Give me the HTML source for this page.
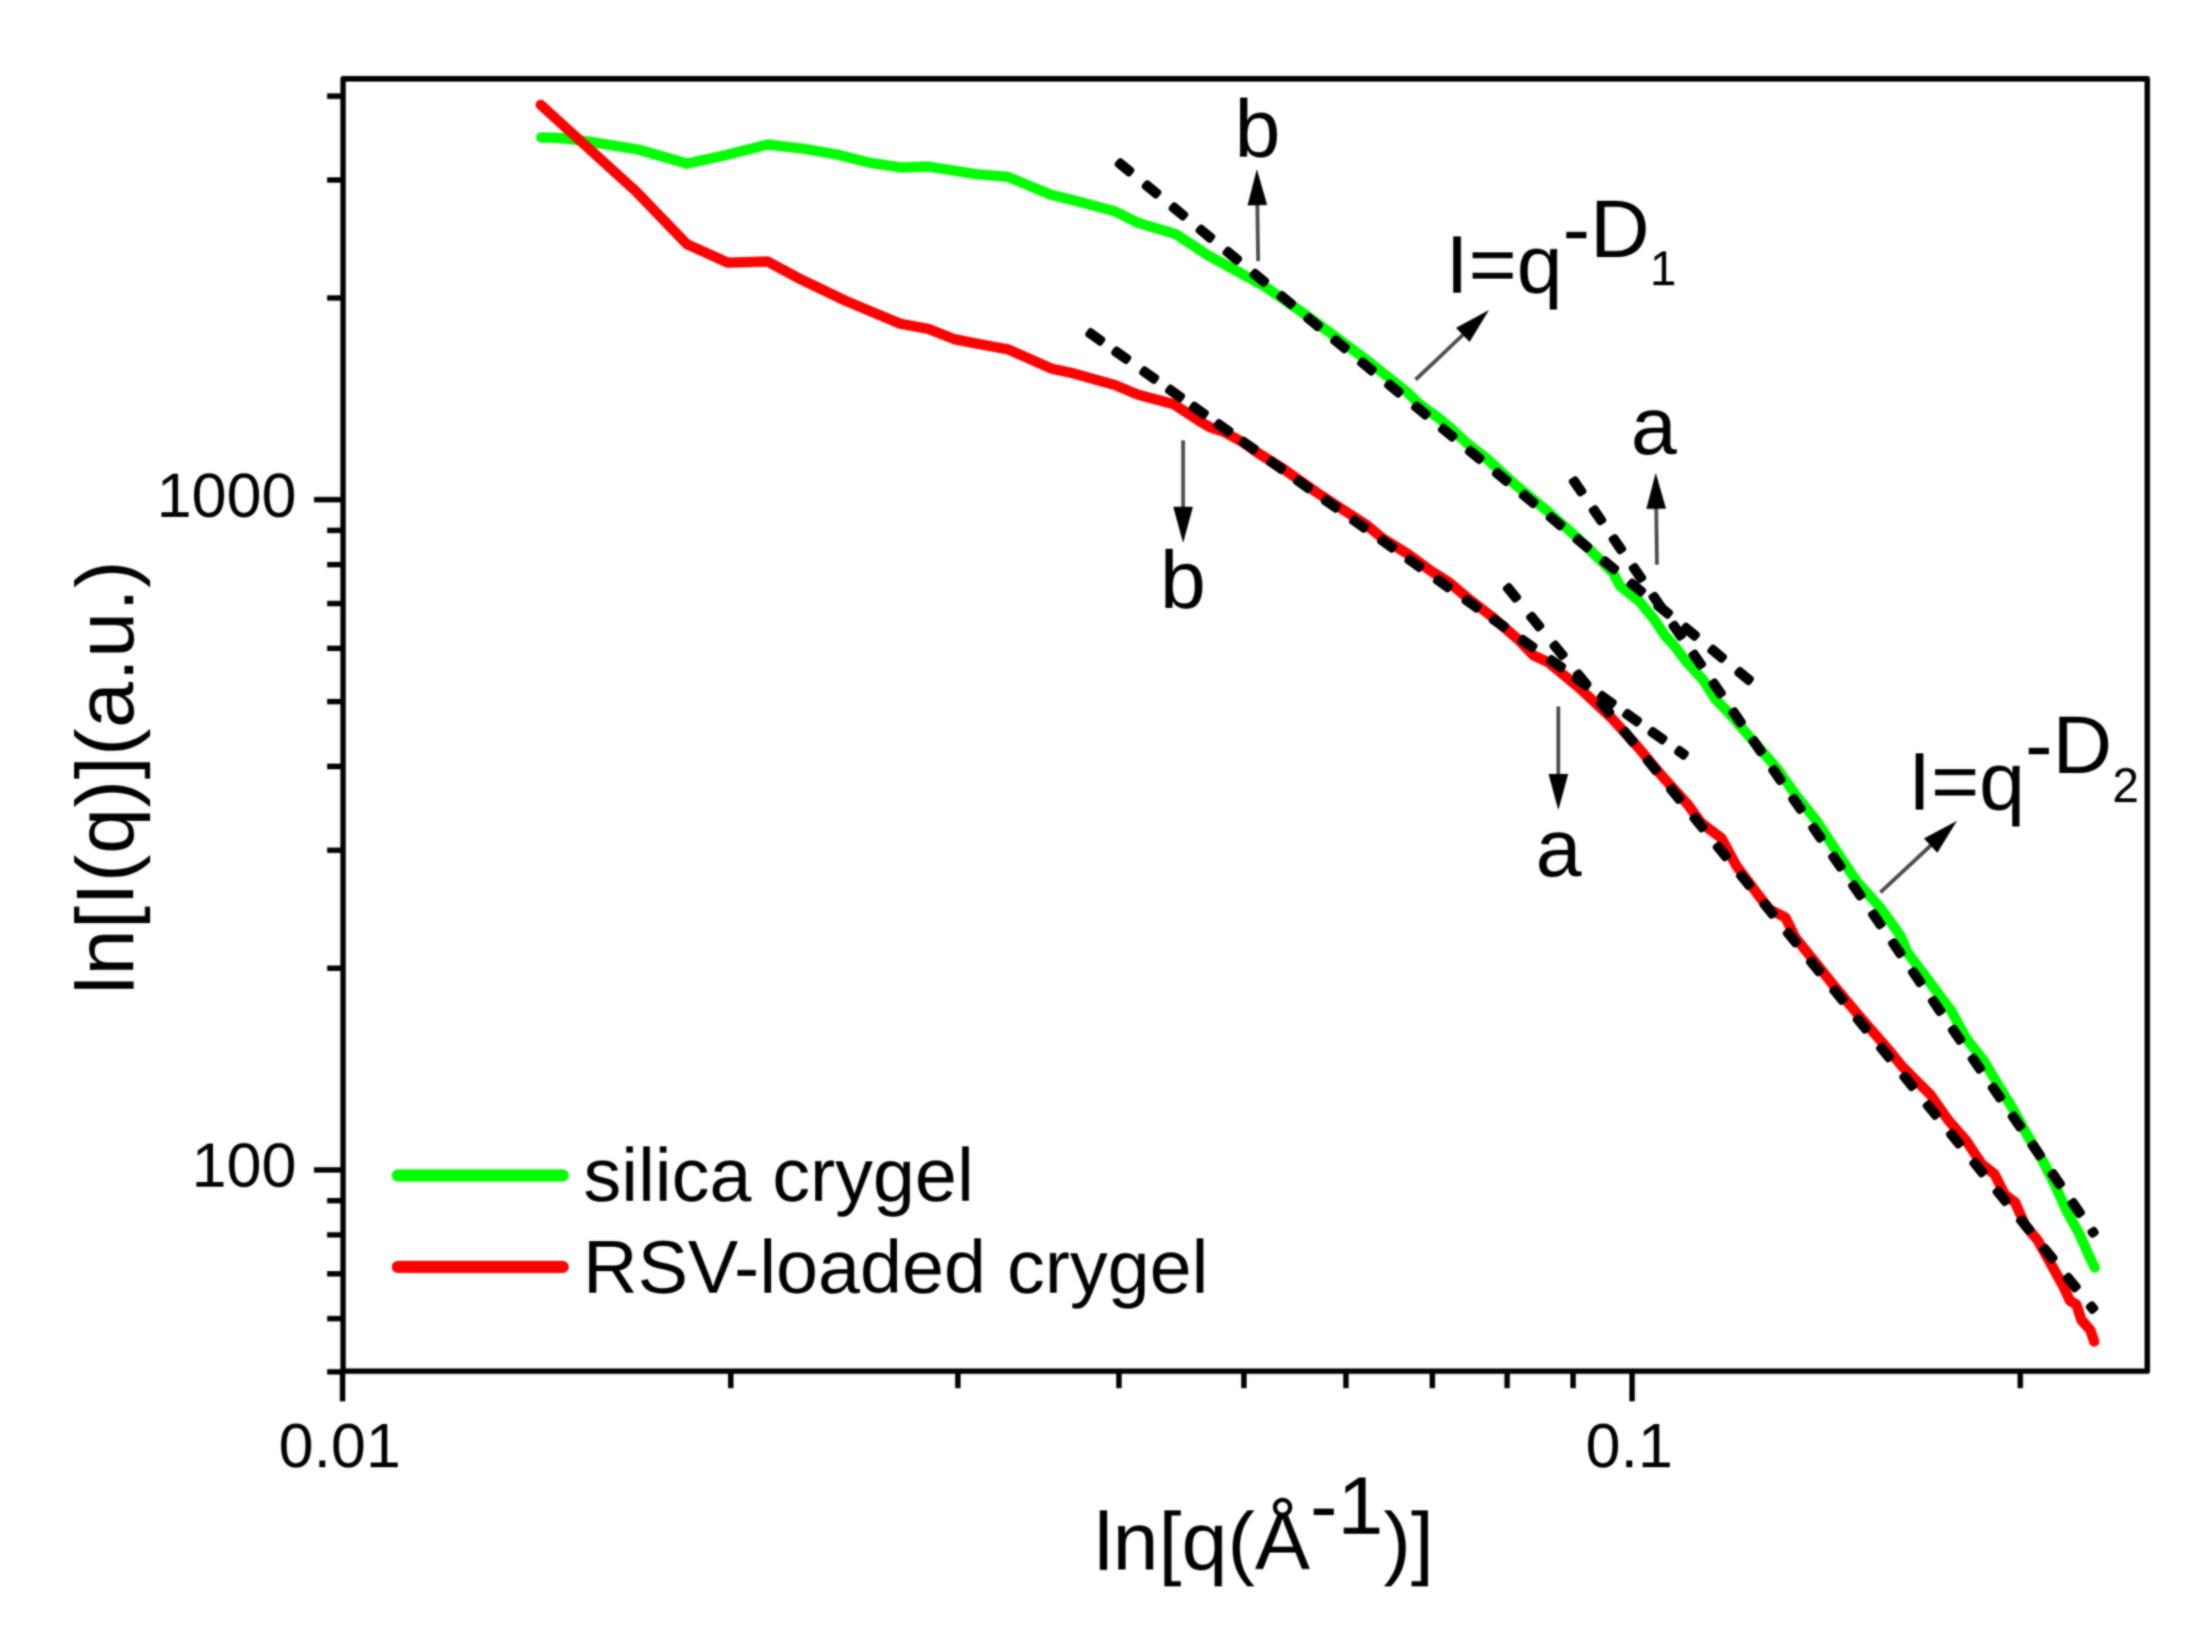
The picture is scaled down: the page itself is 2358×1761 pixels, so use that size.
<!DOCTYPE html>
<html><head><meta charset="utf-8"><title>SAXS plot</title>
<style>
html,body{margin:0;padding:0;background:#fff;}
body{width:2358px;height:1761px;overflow:hidden;}
svg{display:block;}
text{font-family:"Liberation Sans",sans-serif;fill:#000;}
.tk{font-size:67px;}
.an{font-size:88px;}
.lg{font-size:80.5px;}
</style></head><body>
<svg width="2358" height="1761" viewBox="0 0 2358 1761">
<rect x="0" y="0" width="2358" height="1761" fill="#fff"/>
<defs><filter id="soft" x="0" y="0" width="2358" height="1761" filterUnits="userSpaceOnUse" color-interpolation-filters="sRGB"><feGaussianBlur in="SourceGraphic" stdDeviation="0.8" result="b"/><feComposite in="SourceGraphic" in2="b" operator="arithmetic" k1="0" k2="0.3" k3="0.7" k4="0"/></filter></defs>
<g filter="url(#soft)">
<rect x="0" y="0" width="2358" height="1761" fill="#fff"/>
<polyline points="577.0,146.6 600.0,147.3 623.2,150.3 680.4,159.4 732.2,174.4 775.8,164.9 818.0,154.0 857.5,158.6 892.9,164.9 927.2,173.5 959.9,178.4 989.9,177.6 1041.6,185.8 1074.3,188.5 1120.6,207.6 1147.8,214.4 1188.7,225.3 1213.2,237.5 1254.0,249.8 1286.7,271.6 1346.7,304.3 1387.5,332.5 1420.7,356.8 1461.3,387.2 1481.7,403.5 1500.6,418.5 1513.6,431.2 1532.5,444.7 1547.0,456.7 1563.0,471.8 1583.4,487.6 1616.3,517.5 1649.7,545.0 1681.7,573.5 1706.4,597.5 1719.5,610.7 1726.9,624.5 1748.0,641.5 1763.2,660.0 1774.5,677.0 1785.0,688.5 1797.0,704.5 1815.7,725.0 1828.7,745.3 1840.4,757.2 1859.5,779.0 1894.9,819.8 1914.0,847.1 1935.8,874.3 1963.0,915.2 1979.3,939.7 2003.9,966.9 2025.6,996.9 2033.8,1015.9 2058.3,1048.6 2079.8,1077.2 2096.2,1107.2 2115.3,1131.7 2131.6,1159.0 2145.2,1180.8 2161.6,1210.8 2177.9,1238.0 2191.6,1265.3 2202.5,1289.8 2216.1,1314.3 2227.0,1338.8 2233.0,1351.1" fill="none" stroke="#00ff00" stroke-width="11" stroke-linecap="round" stroke-linejoin="round"/>
<polyline points="576.4,111.7 677.7,203.8 732.2,260.2 775.8,280.0 818.0,278.7 854.7,298.3 900.0,320.0 927.2,331.5 959.9,345.1 989.9,350.6 1017.1,361.5 1041.6,366.4 1074.3,372.3 1120.6,392.8 1145.1,398.2 1188.7,410.5 1213.2,420.8 1251.3,430.9 1278.0,448.5 1290.0,455.5 1304.0,460.0 1324.9,471.5 1341.2,483.0 1368.4,500.0 1403.0,524.5 1432.0,543.5 1456.0,559.0 1474.0,574.0 1500.0,590.0 1525.3,608.5 1545.0,621.0 1563.4,636.5 1590.6,657.5 1618.1,681.5 1634.5,698.5 1650.6,706.0 1683.2,733.0 1717.9,765.4 1745.1,795.3 1772.4,828.0 1799.6,858.0 1813.2,877.0 1835.0,893.4 1851.3,923.3 1875.8,956.0 1886.7,969.6 1903.1,977.8 1914.0,999.6 1935.8,1026.8 1956.0,1052.0 1981.7,1082.7 2012.0,1117.5 2028.1,1137.2 2041.7,1150.8 2058.0,1167.2 2077.1,1194.4 2096.2,1216.2 2112.5,1240.7 2126.2,1251.6 2137.1,1273.4 2148.0,1281.6 2158.9,1306.1 2172.5,1322.5 2186.1,1347.0 2199.7,1371.5 2206.5,1386.5 2213.4,1390.6 2218.8,1407.0 2228.3,1417.8 2232.4,1430.1" fill="none" stroke="#ff0000" stroke-width="11" stroke-linecap="round" stroke-linejoin="round"/>
<g fill="#000">
<rect x="1187.9" y="172.9" width="21.8" height="10.9" rx="3.6" transform="rotate(39.39 1198.8 178.3)"/><rect x="1216.6" y="196.4" width="21.8" height="10.9" rx="3.6" transform="rotate(39.39 1227.5 201.9)"/><rect x="1245.3" y="220.0" width="21.8" height="10.9" rx="3.6" transform="rotate(39.39 1256.2 225.5)"/><rect x="1274.1" y="243.6" width="21.8" height="10.9" rx="3.6" transform="rotate(39.39 1285.0 249.0)"/><rect x="1302.8" y="267.2" width="21.8" height="10.9" rx="3.6" transform="rotate(39.39 1313.7 272.6)"/><rect x="1331.5" y="290.7" width="21.8" height="10.9" rx="3.6" transform="rotate(39.39 1342.4 296.2)"/><rect x="1360.2" y="314.3" width="21.8" height="10.9" rx="3.6" transform="rotate(39.39 1371.1 319.8)"/><rect x="1388.9" y="337.9" width="21.8" height="10.9" rx="3.6" transform="rotate(39.39 1399.8 343.4)"/><rect x="1417.6" y="361.5" width="21.8" height="10.9" rx="3.6" transform="rotate(39.39 1428.5 366.9)"/><rect x="1446.3" y="385.1" width="21.8" height="10.9" rx="3.6" transform="rotate(39.39 1457.2 390.5)"/><rect x="1475.0" y="408.6" width="21.8" height="10.9" rx="3.6" transform="rotate(39.39 1485.9 414.1)"/><rect x="1503.7" y="432.2" width="21.8" height="10.9" rx="3.6" transform="rotate(39.39 1514.6 437.7)"/><rect x="1532.4" y="455.8" width="21.8" height="10.9" rx="3.6" transform="rotate(39.39 1543.3 461.2)"/><rect x="1561.2" y="479.4" width="21.8" height="10.9" rx="3.6" transform="rotate(39.39 1572.1 484.8)"/><rect x="1589.9" y="502.9" width="21.8" height="10.9" rx="3.6" transform="rotate(39.39 1600.8 508.4)"/><rect x="1618.6" y="526.5" width="21.8" height="10.9" rx="3.6" transform="rotate(39.39 1629.5 532.0)"/><rect x="1647.3" y="550.1" width="21.8" height="10.9" rx="3.6" transform="rotate(39.39 1658.2 555.5)"/><rect x="1676.0" y="573.7" width="21.8" height="10.9" rx="3.6" transform="rotate(39.39 1686.9 579.1)"/><rect x="1704.7" y="597.2" width="21.8" height="10.9" rx="3.6" transform="rotate(39.39 1715.6 602.7)"/><rect x="1733.4" y="620.8" width="21.8" height="10.9" rx="3.6" transform="rotate(39.39 1744.3 626.3)"/><rect x="1762.1" y="644.4" width="21.8" height="10.9" rx="3.6" transform="rotate(39.39 1773.0 649.8)"/><rect x="1790.8" y="668.0" width="21.8" height="10.9" rx="3.6" transform="rotate(39.39 1801.7 673.4)"/><rect x="1819.6" y="691.5" width="21.8" height="10.9" rx="3.6" transform="rotate(39.39 1830.5 697.0)"/><rect x="1848.3" y="715.1" width="21.8" height="10.9" rx="3.6" transform="rotate(39.39 1859.2 720.6)"/>
<rect x="1670.8" y="513.0" width="21.8" height="10.9" rx="3.6" transform="rotate(55.35 1681.7 518.5)"/><rect x="1692.1" y="543.8" width="21.8" height="10.9" rx="3.6" transform="rotate(55.35 1703.0 549.2)"/><rect x="1713.3" y="574.6" width="21.8" height="10.9" rx="3.6" transform="rotate(55.35 1724.2 580.0)"/><rect x="1734.6" y="605.3" width="21.8" height="10.9" rx="3.6" transform="rotate(55.35 1745.5 610.8)"/><rect x="1755.8" y="636.1" width="21.8" height="10.9" rx="3.6" transform="rotate(55.35 1766.7 641.5)"/><rect x="1777.1" y="666.9" width="21.8" height="10.9" rx="3.6" transform="rotate(55.35 1788.0 672.3)"/><rect x="1798.4" y="697.6" width="21.8" height="10.9" rx="3.6" transform="rotate(55.35 1809.3 703.1)"/><rect x="1819.6" y="728.4" width="21.8" height="10.9" rx="3.6" transform="rotate(55.35 1830.5 733.8)"/><rect x="1840.9" y="759.2" width="21.8" height="10.9" rx="3.6" transform="rotate(55.35 1851.8 764.6)"/><rect x="1862.2" y="789.9" width="21.8" height="10.9" rx="3.6" transform="rotate(55.35 1873.1 795.4)"/><rect x="1883.4" y="820.7" width="21.8" height="10.9" rx="3.6" transform="rotate(55.35 1894.3 826.1)"/><rect x="1904.7" y="851.5" width="21.8" height="10.9" rx="3.6" transform="rotate(55.35 1915.6 856.9)"/><rect x="1925.9" y="882.2" width="21.8" height="10.9" rx="3.6" transform="rotate(55.35 1936.8 887.7)"/><rect x="1947.2" y="913.0" width="21.8" height="10.9" rx="3.6" transform="rotate(55.35 1958.1 918.5)"/><rect x="1968.5" y="943.8" width="21.8" height="10.9" rx="3.6" transform="rotate(55.35 1979.4 949.2)"/><rect x="1989.7" y="974.5" width="21.8" height="10.9" rx="3.6" transform="rotate(55.35 2000.6 980.0)"/><rect x="2011.0" y="1005.3" width="21.8" height="10.9" rx="3.6" transform="rotate(55.35 2021.9 1010.8)"/><rect x="2032.3" y="1036.1" width="21.8" height="10.9" rx="3.6" transform="rotate(55.35 2043.2 1041.5)"/><rect x="2053.5" y="1066.8" width="21.8" height="10.9" rx="3.6" transform="rotate(55.35 2064.4 1072.3)"/><rect x="2074.8" y="1097.6" width="21.8" height="10.9" rx="3.6" transform="rotate(55.35 2085.7 1103.1)"/><rect x="2096.0" y="1128.4" width="21.8" height="10.9" rx="3.6" transform="rotate(55.35 2106.9 1133.8)"/><rect x="2117.3" y="1159.1" width="21.8" height="10.9" rx="3.6" transform="rotate(55.35 2128.2 1164.6)"/><rect x="2138.6" y="1189.9" width="21.8" height="10.9" rx="3.6" transform="rotate(55.35 2149.5 1195.4)"/><rect x="2159.8" y="1220.7" width="21.8" height="10.9" rx="3.6" transform="rotate(55.35 2170.7 1226.1)"/><rect x="2181.1" y="1251.5" width="21.8" height="10.9" rx="3.6" transform="rotate(55.35 2192.0 1256.9)"/><rect x="2202.3" y="1282.2" width="21.8" height="10.9" rx="3.6" transform="rotate(55.35 2213.2 1287.7)"/><rect x="2226.2" y="1308.1" width="10.0" height="10.9" rx="3.6" transform="rotate(55.35 2231.2 1313.6)"/>
<rect x="1156.7" y="353.7" width="21.8" height="10.9" rx="3.6" transform="rotate(35.35 1167.6 359.1)"/>
<rect x="1184.3" y="373.2" width="21.8" height="10.9" rx="3.6" transform="rotate(35.35 1195.2 378.7)"/>
<rect x="1214.1" y="394.4" width="21.8" height="10.9" rx="3.6" transform="rotate(35.35 1225.0 399.8)"/>
<rect x="1241.7" y="413.9" width="21.8" height="10.9" rx="3.6" transform="rotate(35.35 1252.6 419.4)"/>
<rect x="1267.1" y="432.0" width="21.8" height="10.9" rx="3.6" transform="rotate(35.35 1278.0 437.4)"/>
<rect x="1293.3" y="450.6" width="21.8" height="10.9" rx="3.6" transform="rotate(35.35 1304.2 456.0)"/>
<rect x="1320.2" y="469.6" width="21.8" height="10.9" rx="3.6" transform="rotate(35.35 1331.1 475.1)"/>
<rect x="1349.6" y="490.5" width="21.8" height="10.9" rx="3.6" transform="rotate(35.35 1360.5 495.9)"/>
<rect x="1378.3" y="510.9" width="21.8" height="10.9" rx="3.6" transform="rotate(35.35 1389.2 516.3)"/>
<rect x="1407.7" y="531.7" width="21.8" height="10.9" rx="3.6" transform="rotate(35.35 1418.6 537.2)"/>
<rect x="1437.9" y="553.1" width="21.8" height="10.9" rx="3.6" transform="rotate(35.35 1448.8 558.6)"/>
<rect x="1467.8" y="574.3" width="21.8" height="10.9" rx="3.6" transform="rotate(35.35 1478.7 579.8)"/>
<rect x="1496.8" y="594.9" width="21.8" height="10.9" rx="3.6" transform="rotate(35.35 1507.7 600.4)"/>
<rect x="1527.3" y="616.6" width="21.8" height="10.9" rx="3.6" transform="rotate(35.35 1538.2 622.0)"/>
<rect x="1557.8" y="638.2" width="21.8" height="10.9" rx="3.6" transform="rotate(35.35 1568.7 643.6)"/>
<rect x="1586.9" y="658.8" width="21.8" height="10.9" rx="3.6" transform="rotate(35.35 1597.8 664.3)"/>
<rect x="1617.4" y="680.5" width="21.8" height="10.9" rx="3.6" transform="rotate(35.35 1628.3 685.9)"/>
<rect x="1647.9" y="702.1" width="21.8" height="10.9" rx="3.6" transform="rotate(35.35 1658.8 707.6)"/>
<rect x="1674.9" y="721.3" width="21.8" height="10.9" rx="3.6" transform="rotate(35.35 1685.8 726.7)"/>
<rect x="1701.9" y="740.4" width="21.8" height="10.9" rx="3.6" transform="rotate(35.35 1712.8 745.9)"/>
<rect x="1728.9" y="759.6" width="21.8" height="10.9" rx="3.6" transform="rotate(35.35 1739.8 765.0)"/>
<rect x="1755.9" y="778.7" width="21.8" height="10.9" rx="3.6" transform="rotate(35.35 1766.8 784.2)"/>
<rect x="1785.0" y="797.0" width="15" height="10.9" rx="3.6" transform="rotate(35.35 1792.5 802.4)"/>
<rect x="1600.8" y="626.5" width="21.8" height="10.9" rx="3.6" transform="rotate(50.93 1611.7 632.0)"/><rect x="1625.6" y="657.1" width="21.8" height="10.9" rx="3.6" transform="rotate(50.93 1636.5 662.6)"/><rect x="1650.5" y="687.8" width="21.8" height="10.9" rx="3.6" transform="rotate(50.93 1661.4 693.2)"/><rect x="1675.4" y="718.4" width="21.8" height="10.9" rx="3.6" transform="rotate(50.93 1686.3 723.8)"/><rect x="1700.2" y="749.0" width="21.8" height="10.9" rx="3.6" transform="rotate(50.93 1711.1 754.5)"/><rect x="1725.1" y="779.6" width="21.8" height="10.9" rx="3.6" transform="rotate(50.93 1736.0 785.1)"/><rect x="1750.0" y="810.3" width="21.8" height="10.9" rx="3.6" transform="rotate(50.93 1760.9 815.7)"/><rect x="1774.8" y="840.9" width="21.8" height="10.9" rx="3.6" transform="rotate(50.93 1785.7 846.4)"/><rect x="1799.7" y="871.5" width="21.8" height="10.9" rx="3.6" transform="rotate(50.93 1810.6 877.0)"/><rect x="1824.6" y="902.2" width="21.8" height="10.9" rx="3.6" transform="rotate(50.93 1835.5 907.6)"/><rect x="1849.4" y="932.8" width="21.8" height="10.9" rx="3.6" transform="rotate(50.93 1860.3 938.2)"/><rect x="1874.3" y="963.4" width="21.8" height="10.9" rx="3.6" transform="rotate(50.93 1885.2 968.9)"/><rect x="1899.2" y="994.0" width="21.8" height="10.9" rx="3.6" transform="rotate(50.93 1910.1 999.5)"/><rect x="1924.0" y="1024.7" width="21.8" height="10.9" rx="3.6" transform="rotate(50.93 1934.9 1030.1)"/><rect x="1948.9" y="1055.3" width="21.8" height="10.9" rx="3.6" transform="rotate(50.93 1959.8 1060.7)"/><rect x="1973.7" y="1085.9" width="21.8" height="10.9" rx="3.6" transform="rotate(50.93 1984.6 1091.4)"/><rect x="1998.6" y="1116.5" width="21.8" height="10.9" rx="3.6" transform="rotate(50.93 2009.5 1122.0)"/><rect x="2023.5" y="1147.2" width="21.8" height="10.9" rx="3.6" transform="rotate(50.93 2034.4 1152.6)"/><rect x="2048.3" y="1177.8" width="21.8" height="10.9" rx="3.6" transform="rotate(50.93 2059.2 1183.3)"/><rect x="2073.2" y="1208.4" width="21.8" height="10.9" rx="3.6" transform="rotate(50.93 2084.1 1213.9)"/><rect x="2098.1" y="1239.1" width="21.8" height="10.9" rx="3.6" transform="rotate(50.93 2109.0 1244.5)"/><rect x="2122.9" y="1269.7" width="21.8" height="10.9" rx="3.6" transform="rotate(50.93 2133.8 1275.1)"/><rect x="2147.8" y="1300.3" width="21.8" height="10.9" rx="3.6" transform="rotate(50.93 2158.7 1305.8)"/><rect x="2172.7" y="1330.9" width="21.8" height="10.9" rx="3.6" transform="rotate(50.93 2183.6 1336.4)"/><rect x="2197.5" y="1361.6" width="21.8" height="10.9" rx="3.6" transform="rotate(50.93 2208.4 1367.0)"/><rect x="2224.2" y="1388.4" width="12.0" height="10.9" rx="3.6" transform="rotate(50.93 2230.2 1393.8)"/>
</g>
<rect x="365.7" y="84.0" width="1923.3" height="1377.7" fill="none" stroke="#000" stroke-width="5.8" stroke-linejoin="round"/>
<path d="M365.2,1461.7 V1493.7 M1739.8,1461.7 V1493.7 M779.0,1461.7 V1479.7 M1021.1,1461.7 V1479.7 M1192.8,1461.7 V1479.7 M1326.0,1461.7 V1479.7 M1434.8,1461.7 V1479.7 M1526.9,1461.7 V1479.7 M1606.6,1461.7 V1479.7 M1676.9,1461.7 V1479.7 M2153.6,1461.7 V1479.7 M365.7,1247.2 H334.7 M365.7,532.7 H334.7 M365.7,1462.3 H348.7 M365.7,1405.7 H348.7 M365.7,1357.9 H348.7 M365.7,1316.4 H348.7 M365.7,1279.9 H348.7 M365.7,1032.1 H348.7 M365.7,906.3 H348.7 M365.7,817.0 H348.7 M365.7,747.8 H348.7 M365.7,691.2 H348.7 M365.7,643.4 H348.7 M365.7,601.9 H348.7 M365.7,565.4 H348.7 M365.7,317.6 H348.7 M365.7,191.8 H348.7 M365.7,102.5 H348.7" stroke="#000" stroke-width="5.8" fill="none"/>
<text class="tk" x="362.2" y="1564" text-anchor="middle">0.01</text>
<text class="tk" x="1736.8" y="1564" text-anchor="middle">0.1</text>
<text class="tk" x="316" y="551" text-anchor="end">1000</text>
<text class="tk" x="316" y="1265" text-anchor="end">100</text>
<text class="an" style="letter-spacing:0.6px" transform="translate(142,1060) rotate(-90)">ln[I(q)](a.u.)</text>
<text class="an" x="1166.5" y="1672.7">ln[q(Å<tspan dy="-38">-1</tspan><tspan dy="38">)]</tspan></text>
<line x1="424" y1="1253" x2="600" y2="1253" stroke="#00ff00" stroke-width="12.8" stroke-linecap="round"/>
<line x1="424" y1="1350.5" x2="600" y2="1350.5" stroke="#ff0000" stroke-width="12.8" stroke-linecap="round"/>
<text class="lg" x="622" y="1280.3">silica crygel</text>
<text class="lg" x="621.5" y="1377.8">RSV-loaded crygel</text>
<text class="an" x="1316" y="166.7">b</text>
<text class="an" x="1236.5" y="648.1">b</text>
<text class="an" x="1738.5" y="483.5">a</text>
<text class="an" x="1637" y="934.2">a</text>
<text class="an" x="1541" y="312.2">I=q<tspan dy="-38.6">-D</tspan><tspan dy="30.5" font-size="51">1</tspan></text>
<text class="an" x="2034" y="862.8">I=q<tspan dy="-38.6">-D</tspan><tspan dy="30.5" font-size="51">2</tspan></text>
<line x1="1341.2" y1="278.4" x2="1340.3" y2="216.8" stroke="#4a4a4a" stroke-width="4"/><polygon points="1339.8,180.3 1350.8,218.6 1329.9,218.9" fill="#000"/>
<line x1="1261.2" y1="469.4" x2="1261.2" y2="542.3" stroke="#4a4a4a" stroke-width="4"/><polygon points="1261.2,578.8 1250.7,540.3 1271.7,540.3" fill="#000"/>
<line x1="1766.3" y1="602.0" x2="1765.5" y2="540.4" stroke="#4a4a4a" stroke-width="4"/><polygon points="1765.0,503.9 1776.0,542.3 1755.0,542.5" fill="#000"/>
<line x1="1661.2" y1="753.1" x2="1661.2" y2="826.9" stroke="#4a4a4a" stroke-width="4"/><polygon points="1661.2,863.4 1650.7,824.9 1671.7,824.9" fill="#000"/>
<line x1="1509.0" y1="404.8" x2="1560.8" y2="355.6" stroke="#4a4a4a" stroke-width="4"/><polygon points="1587.3,330.5 1566.6,364.6 1552.1,349.4" fill="#000"/>
<line x1="2004.5" y1="951.3" x2="2059.5" y2="900.0" stroke="#4a4a4a" stroke-width="4"/><polygon points="2086.2,875.1 2065.2,909.0 2050.9,893.7" fill="#000"/>
</g></svg></body></html>
